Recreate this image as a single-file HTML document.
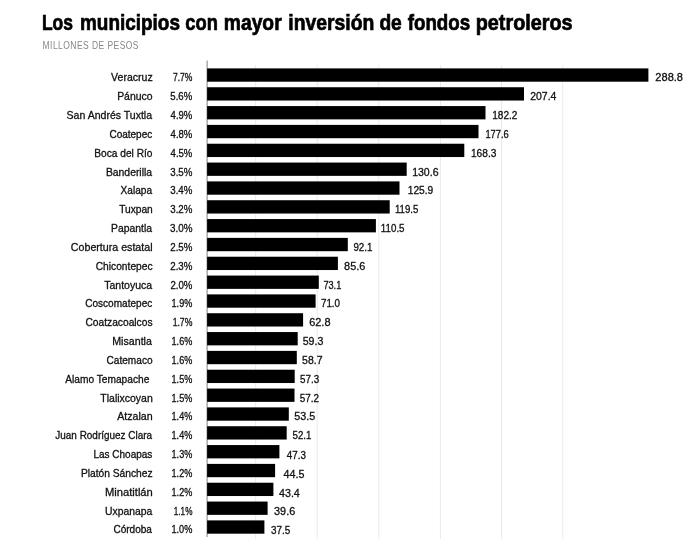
<!DOCTYPE html>
<html lang="es"><head><meta charset="utf-8"><title>Los municipios con mayor inversión de fondos petroleros</title>
<style>
html,body{margin:0;padding:0;background:#fff;}
body{width:700px;height:546px;overflow:hidden;}
svg{display:block;font-family:"Liberation Sans",sans-serif;}
.t{font-weight:bold;font-size:21.9px;fill:#000;stroke:#000;stroke-width:0.7px;vector-effect:non-scaling-stroke;stroke-linejoin:miter;}
.s{font-size:10.9px;fill:#878787;letter-spacing:0.6px;}
.n,.p,.v{font-size:11.2px;fill:#111;stroke:#111;stroke-width:0.3px;vector-effect:non-scaling-stroke;}
.g{stroke:#eaeaea;stroke-width:1;}
.a{stroke:#808080;stroke-width:1;}
</style></head><body>
<svg width="700" height="546" viewBox="0 0 700 546">
<rect width="700" height="546" fill="#fff"/>
<text class="t" y="29.9"><tspan x="41.97" textLength="31.00" lengthAdjust="spacingAndGlyphs">Los</tspan> <tspan x="80.04" textLength="99.87" lengthAdjust="spacingAndGlyphs">municipios</tspan> <tspan x="185.35" textLength="32.52" lengthAdjust="spacingAndGlyphs">con</tspan> <tspan x="223.80" textLength="57.84" lengthAdjust="spacingAndGlyphs">mayor</tspan> <tspan x="288.31" textLength="85.99" lengthAdjust="spacingAndGlyphs">inversión</tspan> <tspan x="379.42" textLength="22.37" lengthAdjust="spacingAndGlyphs">de</tspan> <tspan x="407.72" textLength="62.41" lengthAdjust="spacingAndGlyphs">fondos</tspan> <tspan x="475.74" textLength="96.81" lengthAdjust="spacingAndGlyphs">petroleros</tspan></text>
<text class="s" transform="translate(42.6,49.1) scale(0.777,1)">MILLONES DE PESOS</text>
<line class="g" x1="255.7" x2="255.7" y1="65" y2="539"/>
<line class="g" x1="317.2" x2="317.2" y1="65" y2="539"/>
<line class="g" x1="378.8" x2="378.8" y1="65" y2="539"/>
<line class="g" x1="440.4" x2="440.4" y1="65" y2="539"/>
<line class="g" x1="501.5" x2="501.5" y1="65" y2="539"/>
<line class="g" x1="562.7" x2="562.7" y1="65" y2="539"/>
<line class="a" x1="207.1" x2="207.1" y1="60.5" y2="537"/>
<rect x="207.1" y="68.40" width="441.3" height="13.3" fill="#000"/>
<text class="n" transform="translate(111.12,81.40) scale(0.9406,1)">Veracruz</text>
<text class="p" transform="translate(172.98,81.40) scale(0.7634,1)">7.7%</text>
<text class="v" transform="translate(655.36,81.40) scale(0.9874,1)">288.8</text>
<rect x="207.1" y="87.23" width="316.9" height="13.3" fill="#000"/>
<text class="n" transform="translate(117.13,100.23) scale(0.9311,1)">Pánuco</text>
<text class="p" transform="translate(170.32,100.23) scale(0.8562,1)">5.6%</text>
<text class="v" transform="translate(530.24,100.23) scale(0.9346,1)">207.4</text>
<rect x="207.1" y="106.07" width="278.4" height="13.3" fill="#000"/>
<text class="n" transform="translate(66.59,119.07) scale(0.9417,1)">San Andrés Tuxtla</text>
<text class="p" transform="translate(170.61,119.07) scale(0.8515,1)">4.9%</text>
<text class="v" transform="translate(492.20,119.07) scale(0.9018,1)">182.2</text>
<rect x="207.1" y="124.90" width="271.4" height="13.3" fill="#000"/>
<text class="n" transform="translate(109.41,137.90) scale(0.8950,1)">Coatepec</text>
<text class="p" transform="translate(170.61,137.90) scale(0.8515,1)">4.8%</text>
<text class="v" transform="translate(485.43,137.90) scale(0.8319,1)">177.6</text>
<rect x="207.1" y="143.73" width="257.2" height="13.3" fill="#000"/>
<text class="n" transform="translate(94.28,156.73) scale(0.9093,1)">Boca del Río</text>
<text class="p" transform="translate(170.61,156.73) scale(0.8515,1)">4.5%</text>
<text class="v" transform="translate(470.93,156.73) scale(0.9091,1)">168.3</text>
<rect x="207.1" y="162.56" width="199.6" height="13.3" fill="#000"/>
<text class="n" transform="translate(105.88,175.56) scale(0.9281,1)">Banderilla</text>
<text class="p" transform="translate(170.25,175.56) scale(0.8684,1)">3.5%</text>
<text class="v" transform="translate(412.16,175.56) scale(0.9413,1)">130.6</text>
<rect x="207.1" y="181.40" width="192.4" height="13.3" fill="#000"/>
<text class="n" transform="translate(120.55,194.40) scale(0.9063,1)">Xalapa</text>
<text class="p" transform="translate(170.25,194.40) scale(0.8684,1)">3.4%</text>
<text class="v" transform="translate(407.70,194.40) scale(0.9126,1)">125.9</text>
<rect x="207.1" y="200.23" width="182.6" height="13.3" fill="#000"/>
<text class="n" transform="translate(119.17,213.23) scale(0.9110,1)">Tuxpan</text>
<text class="p" transform="translate(170.25,213.23) scale(0.8684,1)">3.2%</text>
<text class="v" transform="translate(394.92,213.23) scale(0.8599,1)">119.5</text>
<rect x="207.1" y="219.06" width="168.8" height="13.3" fill="#000"/>
<text class="n" transform="translate(111.04,232.06) scale(0.9267,1)">Papantla</text>
<text class="p" transform="translate(169.97,232.06) scale(0.8808,1)">3.0%</text>
<text class="v" transform="translate(380.84,232.06) scale(0.8713,1)">110.5</text>
<rect x="207.1" y="237.90" width="140.7" height="13.3" fill="#000"/>
<text class="n" transform="translate(70.85,250.90) scale(0.9515,1)">Cobertura estatal</text>
<text class="p" transform="translate(170.24,250.90) scale(0.8703,1)">2.5%</text>
<text class="v" transform="translate(353.38,250.90) scale(0.8742,1)">92.1</text>
<rect x="207.1" y="256.73" width="130.8" height="13.3" fill="#000"/>
<text class="n" transform="translate(95.72,269.73) scale(0.9131,1)">Chicontepec</text>
<text class="p" transform="translate(170.24,269.73) scale(0.8703,1)">2.3%</text>
<text class="v" transform="translate(344.09,269.73) scale(0.9758,1)">85.6</text>
<rect x="207.1" y="275.56" width="111.7" height="13.3" fill="#000"/>
<text class="n" transform="translate(104.24,288.56) scale(0.9403,1)">Tantoyuca</text>
<text class="p" transform="translate(170.42,288.56) scale(0.8610,1)">2.0%</text>
<text class="v" transform="translate(323.38,288.56) scale(0.8224,1)">73.1</text>
<rect x="207.1" y="294.40" width="108.5" height="13.3" fill="#000"/>
<text class="n" transform="translate(85.24,307.40) scale(0.8988,1)">Coscomatepec</text>
<text class="p" transform="translate(171.56,307.40) scale(0.8105,1)">1.9%</text>
<text class="v" transform="translate(320.96,307.40) scale(0.8777,1)">71.0</text>
<rect x="207.1" y="313.23" width="96.0" height="13.3" fill="#000"/>
<text class="n" transform="translate(85.45,326.23) scale(0.9134,1)">Coatzacoalcos</text>
<text class="p" transform="translate(172.64,326.23) scale(0.7720,1)">1.7%</text>
<text class="v" transform="translate(309.15,326.23) scale(0.9813,1)">62.8</text>
<rect x="207.1" y="332.06" width="90.6" height="13.3" fill="#000"/>
<text class="n" transform="translate(112.24,345.06) scale(0.9512,1)">Misantla</text>
<text class="p" transform="translate(171.56,345.06) scale(0.8105,1)">1.6%</text>
<text class="v" transform="translate(302.66,345.06) scale(0.9497,1)">59.3</text>
<rect x="207.1" y="350.89" width="89.7" height="13.3" fill="#000"/>
<text class="n" transform="translate(106.51,363.89) scale(0.9035,1)">Catemaco</text>
<text class="p" transform="translate(171.56,363.89) scale(0.8105,1)">1.6%</text>
<text class="v" transform="translate(302.09,363.89) scale(0.9376,1)">58.7</text>
<rect x="207.1" y="369.73" width="87.6" height="13.3" fill="#000"/>
<text class="n" transform="translate(65.25,382.73) scale(0.9103,1)">Alamo Temapache</text>
<text class="p" transform="translate(171.56,382.73) scale(0.8105,1)">1.5%</text>
<text class="v" transform="translate(300.11,382.73) scale(0.8785,1)">57.3</text>
<rect x="207.1" y="388.56" width="87.4" height="13.3" fill="#000"/>
<text class="n" transform="translate(100.32,401.56) scale(0.9368,1)">Tlalixcoyan</text>
<text class="p" transform="translate(171.56,401.56) scale(0.8105,1)">1.5%</text>
<text class="v" transform="translate(299.68,401.56) scale(0.8847,1)">57.2</text>
<rect x="207.1" y="407.39" width="81.7" height="13.3" fill="#000"/>
<text class="n" transform="translate(117.13,420.39) scale(0.9513,1)">Atzalan</text>
<text class="p" transform="translate(171.56,420.39) scale(0.8105,1)">1.4%</text>
<text class="v" transform="translate(294.27,420.39) scale(0.9626,1)">53.5</text>
<rect x="207.1" y="426.23" width="79.6" height="13.3" fill="#000"/>
<text class="n" transform="translate(55.34,439.23) scale(0.8889,1)">Juan Rodríguez Clara</text>
<text class="p" transform="translate(171.56,439.23) scale(0.8105,1)">1.4%</text>
<text class="v" transform="translate(292.48,439.23) scale(0.8692,1)">52.1</text>
<rect x="207.1" y="445.06" width="72.3" height="13.3" fill="#000"/>
<text class="n" transform="translate(93.42,458.06) scale(0.8936,1)">Las Choapas</text>
<text class="p" transform="translate(171.56,458.06) scale(0.8105,1)">1.3%</text>
<text class="v" transform="translate(286.71,458.96) scale(0.8789,1)">47.3</text>
<rect x="207.1" y="463.89" width="68.0" height="13.3" fill="#000"/>
<text class="n" transform="translate(80.92,476.89) scale(0.9152,1)">Platón Sánchez</text>
<text class="p" transform="translate(171.56,476.89) scale(0.8105,1)">1.2%</text>
<text class="v" transform="translate(283.61,477.79) scale(0.9590,1)">44.5</text>
<rect x="207.1" y="482.73" width="66.3" height="13.3" fill="#000"/>
<text class="n" transform="translate(104.93,495.73) scale(0.9999,1)">Minatitlán</text>
<text class="p" transform="translate(171.56,495.73) scale(0.8105,1)">1.2%</text>
<text class="v" transform="translate(278.94,496.63) scale(0.9585,1)">43.4</text>
<rect x="207.1" y="501.56" width="60.5" height="13.3" fill="#000"/>
<text class="n" transform="translate(104.97,514.56) scale(0.9258,1)">Uxpanapa</text>
<text class="p" transform="translate(173.82,514.56) scale(0.7274,1)">1.1%</text>
<text class="v" transform="translate(274.08,515.46) scale(0.9709,1)">39.6</text>
<rect x="207.1" y="520.39" width="57.3" height="13.3" fill="#000"/>
<text class="n" transform="translate(113.43,533.39) scale(0.8984,1)">Córdoba</text>
<text class="p" transform="translate(171.47,533.39) scale(0.8182,1)">1.0%</text>
<text class="v" transform="translate(270.92,534.29) scale(0.8867,1)">37.5</text>
</svg>
</body></html>
